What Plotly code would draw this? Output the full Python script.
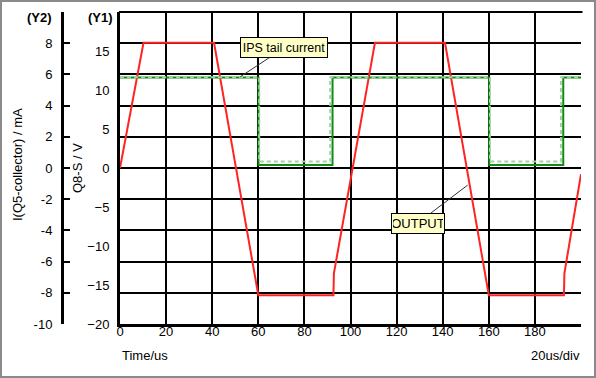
import plotly.graph_objects as go

# ---- data ----
out_t = [0, 10.2, 40.8, 60.0, 92.6, 92.8, 110.6, 141.0, 160.0, 192.6, 192.8, 200]
out_v = [0, 16.05, 16.05, -16.3, -16.3, -13.5, 16.05, 16.05, -16.3, -16.3, -13.5, -0.8]

ips_t = [0, 60.1, 60.1, 92.2, 92.2, 160.2, 160.2, 192.3, 192.3, 200]
ips_i = [5.8, 5.8, 0.2, 0.2, 5.8, 5.8, 0.2, 0.2, 5.8, 5.8]

ips2_t = [0, 60.4, 60.4, 91.2, 91.2, 160.5, 160.5, 191.3, 191.3, 200]
ips2_i = [5.82, 5.82, 0.42, 0.42, 5.82, 5.82, 0.42, 0.42, 5.82, 5.82]

x_ticks = [0, 20, 40, 60, 80, 100, 120, 140, 160, 180]
y1_ticks = [-20, -15, -10, -5, 0, 5, 10, 15]
y2_ticks = [-10, -8, -6, -4, -2, 0, 2, 4, 6, 8, 10]
y2_text = ["-10", "-8", "-6", "-4", "-2", "0", "2", "4", "6", "8", ""]

# ---- geometry ----
W, H = 596, 378
ML, MR, MT, MB = 0, 15, 12, 54
PW, PH = W - ML - MR, H - MT - MB
BOTTOM = H - MB


def pxx(px):
    return (px - ML) / PW


def pxy(py):
    return (BOTTOM - py) / PH


FONT = "Liberation Sans, Arial, sans-serif"

fig = go.Figure()
fig.add_trace(go.Scatter(x=ips_t, y=ips_i, yaxis="y2", mode="lines",
                         line=dict(color="#138a13", width=2), showlegend=False))
fig.add_trace(go.Scatter(x=ips2_t, y=ips2_i, yaxis="y2", mode="lines",
                         line=dict(color="#9fd49f", width=2, dash="4px,3px"), showlegend=False))
fig.add_trace(go.Scatter(x=out_t, y=out_v, yaxis="y", mode="lines",
                         line=dict(color="#ff2424", width=2), showlegend=False))

fig.update_layout(
    width=W, height=H,
    margin=dict(l=ML, r=MR, t=MT, b=MB, pad=0),
    paper_bgcolor="white", plot_bgcolor="white",
    font=dict(family=FONT, size=13, color="black"),
    xaxis=dict(domain=[pxx(120), 1], range=[0, 200], tickvals=x_ticks,
               showgrid=True, gridcolor="black", gridwidth=2,
               showline=True, linecolor="black", linewidth=3,
               zeroline=False, ticks="", ticklabelstandoff=-7, automargin=False),
    yaxis=dict(range=[-20, 20], tickvals=y1_ticks, showgrid=False,
               showline=True, linecolor="black", linewidth=3,
               zeroline=False, ticks="", ticklabelstandoff=5, anchor="x",
               automargin=False),
    yaxis2=dict(range=[-10, 10], tickvals=y2_ticks, ticktext=y2_text,
                overlaying="y", anchor="free", position=pxx(62), side="left",
                showgrid=True, gridcolor="black", gridwidth=2,
                showline=True, linecolor="black", linewidth=3,
                zeroline=False, ticks="inside", ticklen=6, tickwidth=2,
                tickcolor="black", ticklabelstandoff=6, automargin=False),
)

shapes = [
    # top line of the grid
    dict(type="line", xref="paper", yref="paper", x0=pxx(119), x1=pxx(582.5),
         y0=1, y1=1, line=dict(color="black", width=2)),
    # grey window frame
    dict(type="rect", xref="paper", yref="paper", x0=pxx(1), x1=pxx(595),
         y0=pxy(377), y1=pxy(1), line=dict(color="#8a8a8a", width=2)),
]
fig.update_layout(shapes=shapes)

ann = [
    dict(text="<b>(Y2)</b>", x=pxx(40), y=pxy(17), font=dict(size=13)),
    dict(text="<b>(Y1)</b>", x=pxx(100), y=pxy(17), font=dict(size=13)),
    dict(text="I(Q5-collector) / mA", x=pxx(17), y=pxy(165), textangle=-90),
    dict(text="Q8-S / V", x=pxx(77), y=pxy(168), textangle=-90),
    dict(text="Time/us", x=pxx(120), y=pxy(355), xanchor="left"),
    dict(text="20us/div", x=pxx(582), y=pxy(355), xanchor="right"),
]
for a in ann:
    a.update(xref="paper", yref="paper", showarrow=False)
    a.setdefault("xanchor", "center")
    a["yanchor"] = "middle"
    fig.add_annotation(**a)

fig.add_annotation(text="IPS tail current", x=52.2, y=5.85, xref="x", yref="y2",
                   showarrow=True, arrowhead=0, arrowwidth=1, arrowcolor="#333333",
                   ax=44, ay=-29, bgcolor="#ffffc8", bordercolor="black",
                   borderwidth=1, borderpad=1, width=84, height=17,
                   font=dict(size=12.5))
fig.add_annotation(text="OUTPUT", x=150.8, y=-2.2, xref="x", yref="y",
                   showarrow=True, arrowhead=0, arrowwidth=1, arrowcolor="#333333",
                   ax=-50, ay=38, bgcolor="#ffffc8", bordercolor="black",
                   borderwidth=1, borderpad=1, width=50, height=17,
                   font=dict(size=13))

fig.write_html("out.html", config={"displayModeBar": False},
               post_script="document.body.style.margin='0';document.body.style.overflow='hidden';")
